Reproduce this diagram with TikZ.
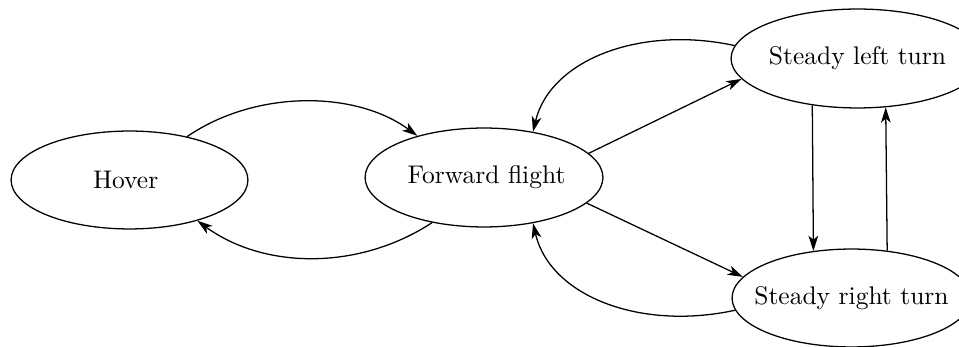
\documentclass[tikz,border=0pt]{standalone}
\usetikzlibrary{shapes.geometric,arrows.meta}
\begin{document}
\begin{tikzpicture}[x=0.3922pt,y=-0.3922pt,
  state/.style={draw,ellipse,inner sep=0pt,line width=0.5pt},
  conn/.style={line width=0.5pt,-{Stealth[length=6pt,width=3.8pt,inset=1.6pt]}}]
\useasboundingbox (0,0) rectangle (959,347);
\node[state,minimum width=92.9pt,minimum height=38.4pt] (hover) at (129.5,180) {\makebox[0pt]{Hover\hspace{3pt}}};
\node[state,minimum width=93.3pt,minimum height=38.8pt] (fwd) at (484,177.5) {\makebox[0pt]{\hspace{2pt}Forward flight}};
\node[state,minimum width=99.2pt,minimum height=38.8pt] (left) at (857.5,58.5) {\makebox[0pt]{Steady left turn}};
\node[state,minimum width=93.7pt,minimum height=38.4pt] (right) at (851.5,298) {\makebox[0pt]{Steady right turn}};
% hover <-> forward
\draw[conn] (hover.37) .. controls (255,90) and (355,90) .. (fwd.148);
\draw[conn] (fwd.221) .. controls (360,270) and (265,270) .. (hover.329);
% forward <-> left
\draw[conn] (fwd.13) -- (left.190);
\draw[conn] (left.174) .. controls (640,25) and (550,60) .. (fwd.43);
% forward <-> right
\draw[conn] (fwd.346.5) -- (right.169.5);
\draw[conn] (right.186) .. controls (640,331) and (550,296) .. (fwd.317);
% left <-> right
\draw[conn] (left.226.1) -- (right.129.7);
\draw[conn] (right.53.7) -- (left.300.6);
\end{tikzpicture}
\end{document}
